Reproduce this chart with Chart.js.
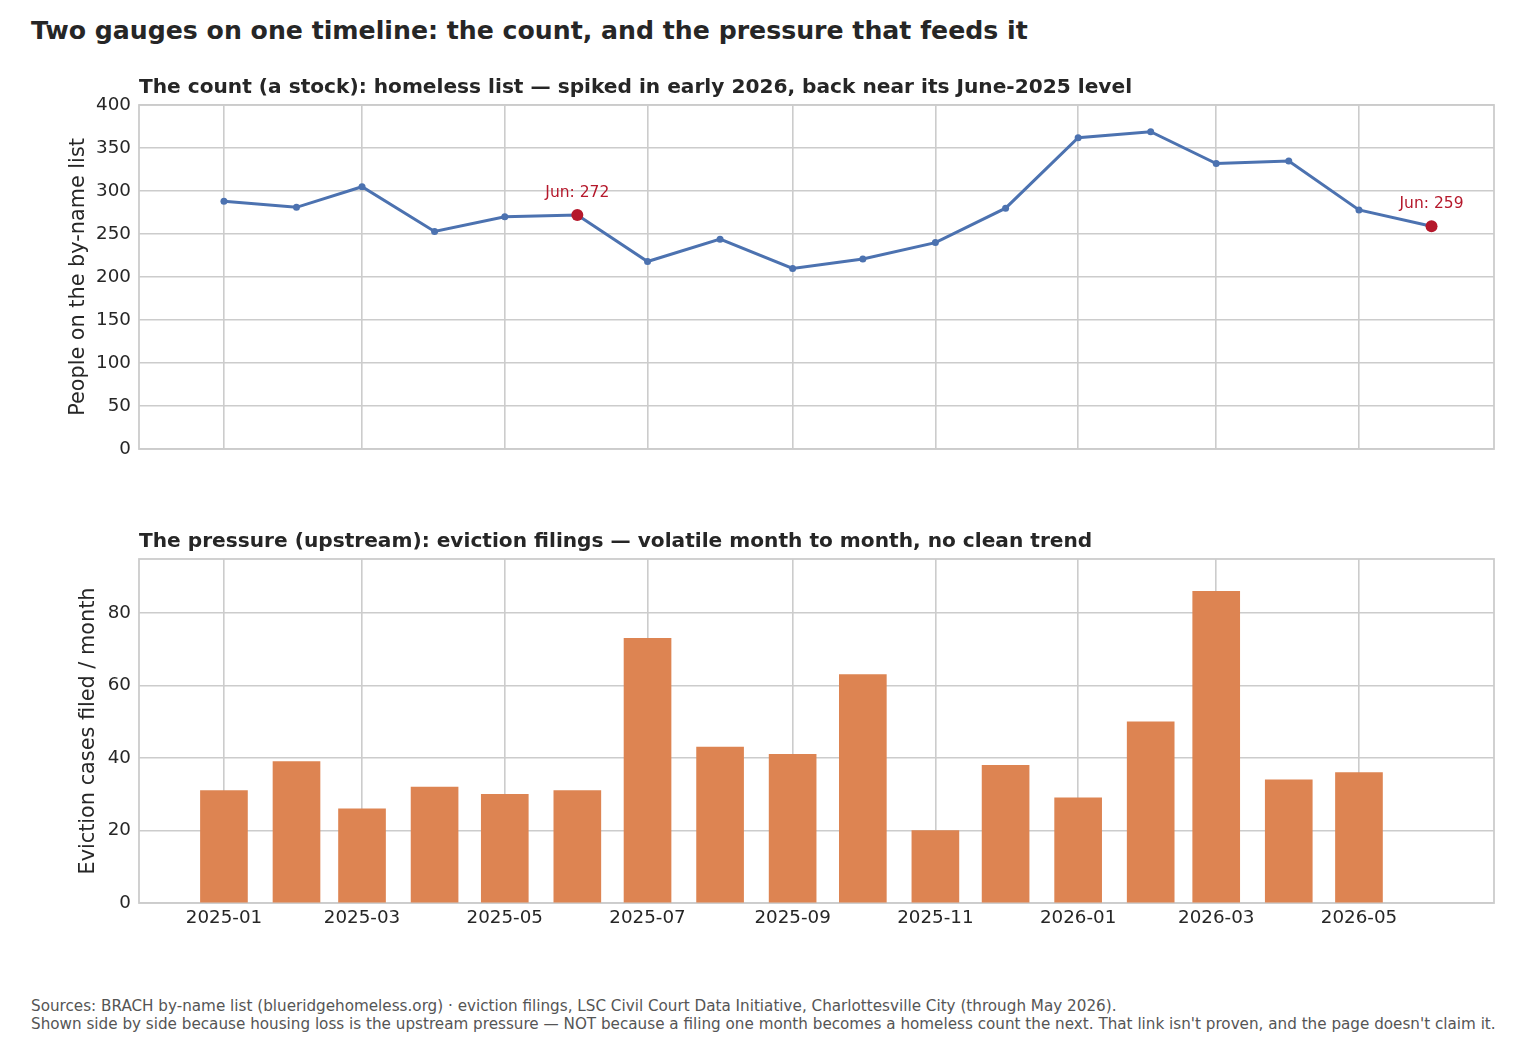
<!DOCTYPE html>
<html>
<head>
<meta charset="utf-8">
<script src="https://cdn.jsdelivr.net/npm/chart.js@4.4.1/dist/chart.umd.min.js"></script>
<style>
  html, body { margin: 0; padding: 0; background: #fff; }
  #page { position: relative; width: 1540px; height: 1050px; overflow: hidden;
          font-family: "DejaVu Sans", sans-serif; color: #262626; }
  .txt { position: absolute; white-space: nowrap; z-index: 2; }
  #title { left: 31px; top: 16px; font-size: 25.2px; font-weight: bold; line-height: 30px; }
  .sub { left: 139px; font-size: 20.15px; font-weight: bold; line-height: 24px; }
  #sub1 { top: 74px; }
  #sub2 { top: 528px; }
  #foot { left: 31px; top: 997px; font-size: 15.2px; line-height: 18px; color: #555; }
  canvas { position: absolute; left: 0; z-index: 1; }
  #countChart { top: 85px; }
  #evictChart { top: 540px; }
</style>
</head>
<body>
<div id="page">
  <div id="title" class="txt">Two gauges on one timeline: the count, and the pressure that feeds it</div>
  <div id="sub1" class="txt sub">The count (a stock): homeless list — spiked in early 2026, back near its June-2025 level</div>
  <div id="sub2" class="txt sub">The pressure (upstream): eviction filings — volatile month to month, no clean trend</div>
  <canvas id="countChart" width="1540" height="385"></canvas>
  <canvas id="evictChart" width="1540" height="420"></canvas>
  <div id="foot" class="txt">Sources: BRACH by-name list (blueridgehomeless.org) · eviction filings, LSC Civil Court Data Initiative, Charlottesville City (through May 2026).<br>Shown side by side because housing loss is the upstream pressure — NOT because a filing one month becomes a homeless count the next. That link isn't proven, and the page doesn't claim it.</div>
</div>
<script>
// ─── Data ────────────────────────────────────────────────────────────────────
const countMonths = ["2025-01","2025-02","2025-03","2025-04","2025-05","2025-06",
                     "2025-07","2025-08","2025-09","2025-10","2025-11","2025-12",
                     "2026-01","2026-02","2026-03","2026-04","2026-05","2026-06"];
const countValues = [288, 281, 305, 253, 270, 272, 218, 244, 210, 221, 240, 280,
                     362, 369, 332, 335, 278, 259];
const highlightMonths = ["2025-06", "2026-06"];

const evictMonths = ["2025-01","2025-02","2025-03","2025-04","2025-05","2025-06",
                     "2025-07","2025-08","2025-09","2025-10","2025-11","2025-12",
                     "2026-01","2026-02","2026-03","2026-04","2026-05"];
const evictValues = [31, 39, 26, 32, 30, 31, 73, 43, 41, 63, 20, 38, 29, 50, 86, 34, 36];

const xTickMonths = ["2025-01","2025-03","2025-05","2025-07","2025-09","2025-11",
                     "2026-01","2026-03","2026-05"];
const countTicks = [0, 50, 100, 150, 200, 250, 300, 350, 400];
const evictTicks = [0, 20, 40, 60, 80];

// ─── Config ──────────────────────────────────────────────────────────────────
const LINE_COLOR = "#4c72b0";
const BAR_COLOR  = "#dd8452";
const MARK_COLOR = "#b5182b";
const GRID_COLOR = "#cccccc";
const TEXT_COLOR = "#262626";
const X_MIN = -36.3;   // days from 2025-01-01
const X_MAX = 542.7;
const AXIS_W = 139;    // fixed y-axis band so both plot areas line up
const TICK_PX = 18.3;
const YTITLE_PX = 20.8;

Chart.defaults.font.family = "'DejaVu Sans', sans-serif";
Chart.defaults.color = TEXT_COLOR;

// ─── Helpers ─────────────────────────────────────────────────────────────────
const BASE = Date.UTC(2025, 0, 1);
function dayOf(ym) {
    const [y, m] = ym.split("-").map(Number);
    return (Date.UTC(y, m - 1, 1) - BASE) / 86400000;
}
const tickDays = xTickMonths.map(dayOf);

function xScale(showLabels, height) {
    return {
        type: "linear",
        min: X_MIN, max: X_MAX,
        offset: false,
        afterBuildTicks: s => { s.ticks = tickDays.map(v => ({ value: v })); },
        afterFit: s => { s.height = height; },
        ticks: {
            display: showLabels,
            autoSkip: false, maxRotation: 0, padding: 4,
            font: { size: TICK_PX },
            callback: v => xTickMonths[tickDays.indexOf(v)] ?? ""
        },
        grid: { color: GRID_COLOR, lineWidth: 1.6, drawTicks: false, offset: false },
        border: { display: false }
    };
}

function yScale(max, ticks, title, titlePad) {
    return {
        min: 0, max,
        afterBuildTicks: s => { s.ticks = ticks.map(v => ({ value: v })); },
        afterFit: s => { s.width = AXIS_W; },
        ticks: { padding: 8, font: { size: TICK_PX } },
        grid: { color: GRID_COLOR, lineWidth: 1.6, drawTicks: false },
        border: { display: false },
        title: { display: true, text: title, font: { size: YTITLE_PX },
                 padding: { top: titlePad, bottom: 0 } }
    };
}

// box round the plot area (matplotlib-style spines)
const frame = {
    id: "frame",
    beforeDatasetsDraw(chart) {
        const { ctx, chartArea: a } = chart;
        ctx.save();
        ctx.strokeStyle = GRID_COLOR;
        ctx.lineWidth = 1.8;
        ctx.strokeRect(a.left, a.top, a.right - a.left, a.bottom - a.top);
        ctx.restore();
    }
};

// "Jun: 272" labels above the highlighted points
const markLabels = {
    id: "markLabels",
    afterDatasetsDraw(chart) {
        const { ctx } = chart;
        const meta = chart.getDatasetMeta(0);
        ctx.save();
        ctx.fillStyle = MARK_COLOR;
        ctx.font = "15.5px 'DejaVu Sans'";
        ctx.textAlign = "center";
        ctx.textBaseline = "middle";
        countMonths.forEach((m, i) => {
            if (!highlightMonths.includes(m)) return;
            const p = meta.data[i];
            ctx.fillText("Jun: " + countValues[i], p.x, p.y - 22);
        });
        ctx.restore();
    }
};

// ─── Build charts ────────────────────────────────────────────────────────────
function buildCountChart() {
    const isMark = i => highlightMonths.includes(countMonths[i]);
    new Chart(document.getElementById("countChart"), {
        type: "line",
        plugins: [frame, markLabels],
        data: {
            datasets: [{
                data: countMonths.map((m, i) => ({ x: dayOf(m), y: countValues[i] })),
                borderColor: LINE_COLOR,
                borderWidth: 3,
                tension: 0,
                pointRadius: c => isMark(c.dataIndex) ? 6 : 3.5,
                pointBackgroundColor: c => isMark(c.dataIndex) ? MARK_COLOR : LINE_COLOR,
                pointBorderWidth: 0,
                fill: false
            }]
        },
        options: {
            responsive: false,
            animation: false,
            layout: { padding: { top: 20, right: 46, bottom: 0, left: 0 } },
            scales: {
                x: xScale(false, 21),
                y: yScale(400, countTicks, "People on the by-name list", 66)
            },
            plugins: { legend: { display: false }, tooltip: { enabled: false } }
        }
    });
}

function buildEvictChart() {
    new Chart(document.getElementById("evictChart"), {
        type: "bar",
        plugins: [frame],
        data: {
            datasets: [{
                data: evictMonths.map((m, i) => ({ x: dayOf(m), y: evictValues[i] })),
                backgroundColor: BAR_COLOR,
                borderWidth: 0,
                barThickness: 47
            }]
        },
        options: {
            responsive: false,
            animation: false,
            layout: { padding: { top: 19, right: 46, bottom: 0, left: 0 } },
            scales: {
                x: xScale(true, 57),
                y: yScale(94.9, evictTicks, "Eviction cases filed / month", 76.5)
            },
            plugins: { legend: { display: false }, tooltip: { enabled: false } }
        }
    });
}

// ─── Boot ────────────────────────────────────────────────────────────────────
buildCountChart();
buildEvictChart();
</script>
</body>
</html>
